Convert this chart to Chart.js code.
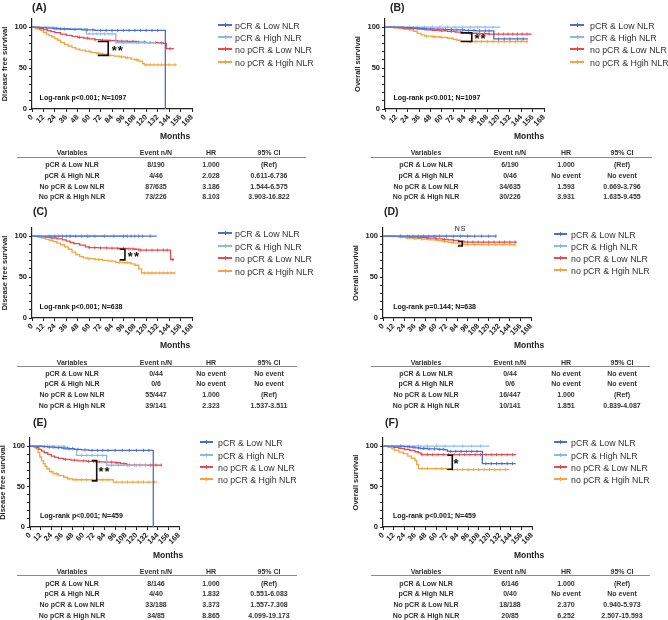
<!DOCTYPE html>
<html lang="en">
<head>
<meta charset="UTF-8">
<title>Survival by pCR and NLR</title>
<script src="https://cdn.jsdelivr.net/npm/chart.js@4.4.1/dist/chart.umd.min.js"></script>
<style>
  body { margin: 0; background: #fff; font-family: "Liberation Sans", Arial, sans-serif; color: #222; }
  #page { position: relative; width: 668px; height: 620px; overflow: hidden; }
  #page canvas { position: absolute; }
  .t { position: absolute; white-space: nowrap; line-height: 1; }
  .lbl { font-weight: bold; font-size: 10.5px; transform: translateY(-50%); }
  .months { font-weight: bold; font-size: 8.5px; transform: translate(-50%, -50%); }
  .cell { font-weight: bold; font-size: 7px; color: #333; transform: translate(-50%, -50%); }
  .rule { position: absolute; height: 1px; background: #8a8a8a; }
  .leg { font-size: 8.8px; color: #333; transform: translateY(-50%); }
  .legline { position: absolute; height: 1.4px; }
  .legtick { position: absolute; width: 1px; height: 4px; }
</style>
</head>
<body>
<div id="page"></div>
<script>
// ---- data ----
const legendLabels = ['pCR & Low NLR', 'pCR & High NLR', 'no pCR & Low NLR', 'no pCR & Hgih NLR'];
const tableGroups = ['pCR & Low NLR', 'pCR & High NLR', 'No pCR & Low NLR', 'No pCR & High NLR'];
const tableHeader = ['Variables', 'Event  n/N', 'HR', '95% CI'];
const colors = ['#4b6cd2', '#8db8ea', '#e8484f', '#f6a43c'];

// (A) disease free survival, all patients  [month, survival %]
const A_pcrLow = [[0,100],[8,99.5],[15,98.9],[22,98.4],[30,97.8],[40,97.3],[52,96.7],[66,96.1],[140,0]];
const A_pcrHigh = [[0,100],[24,97.8],[57,91.8],[88,81],[130,81]];
const A_npLow = [[0,100],[4,99.4],[8,98.3],[12,97],[16,95.8],[20,94.5],[24,93.3],[30,91.5],[36,90],[42,88.8],[48,87.6],[54,86.6],[60,85.6],[66,84.8],[72,84.1],[80,83.6],[90,82.9],[100,82.5],[110,81.8],[120,81.2],[132,80.7],[138,80.2],[141,73.7],[149,73.7]];
const A_npHigh = [[0,100],[3,99],[6,97.5],[9,96],[12,93.5],[15,91.5],[18,89.8],[21,88],[24,86],[27,84],[30,81.5],[34,79],[38,77],[42,75],[46,73.2],[50,72],[56,70.5],[62,69],[68,68],[74,67],[80,65.6],[86,64.6],[92,63.8],[98,62.6],[104,61],[108,60.2],[112,58.5],[116,55.5],[118,54],[152,54]];
const A_cens = [
  [26,34,45,58,64,72,78,84,90,96,102,108,114,120,126,132],
  [30,60,64,68,72,76,80,84,96,110],
  [50,58,66,74,82,88,94,100,106,112,118,124,130,136,145],
  [60,70,82,94,100,110,120,124,128,132,136,140,144,150]
];
// (B) overall survival, all patients
const B_pcrLow = [[0,100],[20,99.5],[28,99],[36,98.5],[44,98],[52,97.6],[62,97.1],[72,96.6],[84,96.1],[96,95.6],[115,85.6],[151,85.6]];
const B_pcrHigh = [[0,100],[122,100]];
const B_npLow = [[0,100],[10,99.6],[18,99],[26,98.3],[34,97.6],[42,96.8],[50,96.2],[58,95.6],[66,94.8],[74,94],[82,93.3],[90,92.6],[98,92],[110,91.6],[155,91.6]];
const B_npHigh = [[0,100],[8,99.4],[14,98.5],[20,97.5],[26,96.3],[30,95],[34,92.5],[38,90.5],[42,89],[50,88.3],[58,87.6],[66,86.5],[72,85.2],[76,84],[80,83],[86,82.5],[151,82.5]];
const B_cens = [
  [24,30,40,48,56,64,70,76,82,88,94,100,106,110,120,126,132,140,146],
  [10,18,26,34,42,50,58,66,74,82,90,98,106,114],
  [60,70,80,90,100,105,110,115,120,125,130,135,140,145,150],
  [44,52,60,90,96,102,108,114,120,126,132,138,144,150]
];
// (C) disease free survival, subgroup 1
const C_pcrLow = [[0,100],[131,100]];
const C_pcrHigh = [[0,100],[100,100]];
const C_npLow = [[0,100],[8,99.5],[14,98.8],[20,97.8],[26,96.8],[32,95.6],[36,94],[40,92.3],[44,90.8],[50,89],[56,87],[60,86],[70,85.6],[80,85.3],[90,85],[100,84.5],[108,84],[112,83],[145.5,71.5],[149,71.5]];
const C_npHigh = [[0,100],[6,99],[10,97.8],[14,96.5],[18,95],[22,93.3],[26,91.5],[30,89.5],[34,87],[38,84],[42,80.5],[46,77.5],[50,75],[54,73.5],[58,72.5],[66,71.5],[74,70.5],[80,69.5],[88,68],[96,67.5],[104,66.2],[108,64.5],[112,60],[115,55],[150,55]];
const C_cens = [
  [18,24,28,32,36,40,46,52,58,66,76,86,96,100,104,108,112,116,124],
  [20,40,60],
  [60,66,72,78,84,90,96,102,106,114,120,126,132,138,142,148],
  [60,70,84,92,100,118,122,126,130,134,138,142,146,150]
];
// (D) overall survival, subgroup 1
const D_pcrLow = [[0,100],[129,100]];
const D_pcrHigh = [[0,100],[100,100]];
const D_npLow = [[0,100],[14,99.8],[22,99.4],[30,99],[40,98.4],[50,97.6],[60,96.8],[68,96.2],[74,95.6],[80,94.8],[86,94],[92,92.8],[152,92.8]];
const D_npHigh = [[0,100],[10,99.5],[18,98.7],[26,97.8],[34,97],[44,96.3],[54,95.5],[62,94.6],[68,93.5],[74,92.4],[80,91.4],[86,90.4],[92,89.6],[150,89.6]];
const D_cens = [
  [20,28,34,40,46,52,58,64,72,80,88,96,104,112,120,128],
  [30,60],
  [20,30,40,50,60,70,80,96,102,108,114,120,126,132,138,144,150],
  [20,28,36,44,52,60,70,78,96,104,112,120,128,136,144,150]
];
// (E) disease free survival, subgroup 2
const E_pcrLow = [[0,100],[8,99.8],[14,99.4],[20,98.8],[28,98.2],[36,97.6],[44,96.8],[50,96],[58,95.3],[66,94.7],[139,0]];
const E_pcrHigh = [[0,100],[39.5,96],[52.6,88.6],[86.5,76.3],[132,76.3]];
const E_npLow = [[0,100],[4,99.3],[7,98],[10,96],[13,93.8],[16,91.8],[20,89.8],[24,87.6],[28,86],[32,84.8],[38,83.6],[46,82.6],[54,81.8],[64,81.2],[74,80.6],[84,80.1],[96,79.4],[102,78.3],[109,76.5],[148.5,76.5]];
const E_npHigh = [[0,100],[5,98],[7,96.5],[9,92],[11,86.5],[13,82],[15,78.3],[17,75],[19,72],[22,68.5],[26,65.8],[32,63.5],[38,61.5],[42,59.5],[48,58.4],[94,55.5],[143,55.5]];
const E_cens = [
  [16,22,26,32,38,42,48,54,62,70,76,82,88,96,104,112,120,128,134],
  [20,44,58,64,70,76,82,92,100,110,120],
  [40,50,60,66,72,78,86,92,98,106,112,118,124,130,136,142,148],
  [24,30,44,52,58,64,70,76,82,88,98,104,110,116,122,128,134,140]
];
// (F) overall survival, subgroup 2
const F_pcrLow = [[0,100],[24,99.3],[30,98.6],[36,97.8],[42,97],[50,96.5],[62,96],[70,95.2],[72.7,93.5],[112,78.3],[149.6,78.3]];
const F_pcrHigh = [[0,100],[120,100]];
const F_npLow = [[0,100],[6,99.4],[12,98.3],[18,97.2],[24,95.8],[30,94.7],[36,93],[40,91.5],[43,89.4],[150,89.4]];
const F_npHigh = [[0,100],[6,98.8],[10,96.5],[13,94.7],[18,92.5],[23,90.6],[28,87.5],[32,85],[36,82.4],[38,77],[40,72.2],[72,71],[142,71]];
const F_cens = [
  [20,28,34,40,46,52,58,64,68,76,82,88,94,100,106,116,122,128,134,140,146],
  [10,20,30,40,50,60,70,80,90,100,110],
  [44,50,56,62,68,74,80,86,92,98,104,110,116,122,128,134,140,146],
  [44,50,60,66,78,84,90,96,102,108,114,120,126,132,138]
];

// tables: event n/N, HR, 95% CI
const A_event = ['8/190', '4/46', '87/635', '73/226'];
const A_hr = ['1.000', '2.028', '3.186', '8.103'];
const A_ci = ['(Ref)', '0.611-6.736', '1.544-6.575', '3.903-16.822'];
const B_event = ['6/190', '0/46', '34/635', '30/226'];
const B_hr = ['1.000', 'No event', '1.593', '3.931'];
const B_ci = ['(Ref)', 'No event', '0.669-3.796', '1.635-9.455'];
const C_event = ['0/44', '0/6', '55/447', '39/141'];
const C_hr = ['No event', 'No event', '1.000', '2.323'];
const C_ci = ['No event', 'No event', '(Ref)', '1.537-3.511'];
const D_event = ['0/44', '0/6', '16/447', '10/141'];
const D_hr = ['No event', 'No event', '1.000', '1.851'];
const D_ci = ['No event', 'No event', '(Ref)', '0.839-4.087'];
const E_event = ['8/146', '4/40', '33/188', '34/85'];
const E_hr = ['1.000', '1.832', '3.373', '8.865'];
const E_ci = ['(Ref)', '0.551-6.083', '1.557-7.308', '4.099-19.173'];
const F_event = ['6/146', '0/40', '18/188', '20/85'];
const F_hr = ['1.000', 'No event', '2.370', '6.252'];
const F_ci = ['(Ref)', 'No event', '0.940-5.973', '2.507-15.593'];

// ---- layout ----
const page = document.getElementById('page');
const FONT = '"Liberation Sans", Arial, sans-serif';

function addText(cls, txt, x, y) {
  const d = document.createElement('div');
  d.className = 't ' + cls;
  d.textContent = txt;
  d.style.left = x + 'px';
  d.style.top = y + 'px';
  page.appendChild(d);
  return d;
}

function addBox(cls, x, y, w, color) {
  const d = document.createElement('div');
  d.className = cls;
  d.style.left = x + 'px';
  d.style.top = y + 'px';
  if (w) d.style.width = w + 'px';
  if (color) d.style.background = color;
  page.appendChild(d);
}

function stepAt(curve, t) {
  let v = curve[0][1];
  for (const [x, y] of curve) { if (x <= t) v = y; }
  return v;
}

const annot = {
  id: 'annot',
  afterDatasetsDraw(chart, args, o) {
    const { ctx, scales: { x, y } } = chart;
    const b = o.bracket;
    ctx.save();
    ctx.strokeStyle = '#111';
    ctx.lineWidth = 1.6;
    ctx.beginPath();
    ctx.moveTo(x.getPixelForValue(b[0]), y.getPixelForValue(b[2]));
    ctx.lineTo(x.getPixelForValue(b[1]), y.getPixelForValue(b[2]));
    ctx.lineTo(x.getPixelForValue(b[1]), y.getPixelForValue(b[3]));
    ctx.lineTo(x.getPixelForValue(b[0]), y.getPixelForValue(b[3]));
    ctx.stroke();
    ctx.fillStyle = '#111';
    ctx.textAlign = 'center';
    ctx.textBaseline = 'middle';
    ctx.font = o.markFont + ' ' + FONT;
    ctx.letterSpacing = '1px';
    ctx.fillText(o.mark, x.getPixelForValue(o.markAt[0]), y.getPixelForValue(o.markAt[1]));
    ctx.letterSpacing = '0px';
    ctx.textAlign = 'left';
    ctx.font = 'bold 7px ' + FONT;
    ctx.fillText(o.logrank, x.getPixelForValue(o.logAt[0]), y.getPixelForValue(o.logAt[1]));
    ctx.restore();
  }
};

function makePanel(p) {
  const padTop = 10, padRight = 8, yW = 32, xH = 26;
  const left = p.area.l - yW, top = p.area.t - padTop;
  const w = p.area.r + padRight - left, h = p.area.b + xH - top;
  const cv = document.createElement('canvas');
  cv.width = w; cv.height = h;
  cv.style.left = left + 'px'; cv.style.top = top + 'px';
  cv.style.width = w + 'px'; cv.style.height = h + 'px';
  page.appendChild(cv);

  const datasets = [];
  p.curves.forEach((c, i) => {
    datasets.push({
      type: 'line', data: c.map(([x, y]) => ({ x, y })), stepped: 'before',
      borderColor: colors[i], borderWidth: 1.3, pointRadius: 0, fill: false
    });
  });
  p.curves.forEach((c, i) => {
    datasets.push({
      type: 'scatter', data: p.cens[i].map(t => ({ x: t, y: stepAt(c, t) })),
      pointStyle: 'line', rotation: 90, radius: 1.6, borderColor: colors[i], borderWidth: 0.9
    });
  });
  // first group drawn on top
  datasets.forEach((d, i) => { d.order = i; });

  new Chart(cv, {
    type: 'line',
    data: { datasets },
    options: {
      responsive: false, animation: false, devicePixelRatio: 1,
      layout: { padding: { top: padTop, right: padRight, left: 0, bottom: 0 } },
      plugins: {
        legend: { display: false }, tooltip: { enabled: false },
        annot: p.annot
      },
      scales: {
        x: {
          type: 'linear', min: 0, max: 168,
          afterFit: s => { s.height = xH; },
          ticks: { stepSize: 12, autoSkip: false, minRotation: 45, maxRotation: 45, padding: 1,
                   color: '#222', font: { family: FONT, size: 7.5, weight: 'bold' } },
          grid: { drawOnChartArea: false, tickLength: 3, color: '#222' },
          border: { color: '#222', width: 1.2 }
        },
        y: {
          min: 0, max: 110,
          afterFit: s => { s.width = yW; },
          ticks: { stepSize: 10, autoSkip: false, padding: 2, color: '#222',
                   font: { family: FONT, size: 7.5, weight: 'bold' },
                   callback: v => (v % 50 === 0 && v <= 100 ? v : '') },
          grid: { drawOnChartArea: false, tickLength: 3,
                  color: c => (c.tick && c.tick.value > 100 ? 'rgba(0,0,0,0)' : '#222') },
          border: { color: '#222', width: 1.2 },
          title: { display: true, text: p.ytitle, padding: 0, color: '#222',
                   font: { family: FONT, size: 7.5, weight: 'bold' } }
        }
      }
    },
    plugins: [annot]
  });

  // panel letter
  addText('lbl', p.letter, p.letterAt[0], p.letterAt[1]);

  // legend
  const lg = p.legend;
  legendLabels.forEach((name, i) => {
    const y = lg.y[i];
    addBox('legline', lg.x0, y - 0.7, lg.x1 - lg.x0, colors[i]);
    addBox('legtick', (lg.x0 + lg.x1) / 2 - 0.5, y - 2, 0, colors[i]);
    addText('leg', name, lg.tx, y + 0.5);
  });

  // months label and table
  const tb = p.table;
  addText('months', 'Months', tb.monthsAt[0], tb.monthsAt[1]);
  tableHeader.forEach((h, j) => addText('cell', h, tb.cols[j], tb.head));
  addBox('rule', tb.rule[0], tb.ruleY, tb.rule[1] - tb.rule[0]);
  tableGroups.forEach((g, i) => {
    const row = [g, tb.event[i], tb.hr[i], tb.ci[i]];
    row.forEach((v, j) => addText('cell', v, tb.cols[j], tb.rows[i]));
  });
}

const colsL = [72, 156, 211, 269];
const colsR = [426, 510, 566, 622];

const panels = [
  { letter: '(A)', letterAt: [32, 7], ytitle: 'Disease free survival',
    area: { l: 32, r: 192, t: 19, b: 109 },
    curves: [A_pcrLow, A_pcrHigh, A_npLow, A_npHigh], cens: A_cens,
    annot: { bracket: [69, 80, 82.5, 65.5], mark: '**', markFont: 'bold 13px', markAt: [90, 70.5],
             logrank: 'Log-rank p<0.001; N=1097', logAt: [8, 13] },
    legend: { x0: 218, x1: 232, tx: 235, y: [25, 37, 49, 62] },
    table: { monthsAt: [175, 136], cols: colsL, head: 151.7, rule: [17, 306], ruleY: 157,
             rows: [164, 175, 185.7, 196.3], event: A_event, hr: A_hr, ci: A_ci } },
  { letter: '(B)', letterAt: [390, 7], ytitle: 'Overall survival',
    area: { l: 385, r: 544, t: 19, b: 109 },
    curves: [B_pcrLow, B_pcrHigh, B_npLow, B_npHigh], cens: B_cens,
    annot: { bracket: [80, 91.7, 93, 82.5], mark: '**', markFont: 'bold 13px', markAt: [101, 85],
             logrank: 'Log-rank p<0.001; N=1097', logAt: [9, 13] },
    legend: { x0: 570, x1: 584, tx: 590, y: [25, 37, 49, 62] },
    table: { monthsAt: [529, 136], cols: colsR, head: 151.7, rule: [371, 652], ruleY: 157,
             rows: [164, 175, 185.7, 196.3], event: B_event, hr: B_hr, ci: B_ci } },
  { letter: '(C)', letterAt: [33, 211], ytitle: 'Disease free survival',
    area: { l: 32, r: 192, t: 228, b: 318 },
    curves: [C_pcrLow, C_pcrHigh, C_npLow, C_npHigh], cens: C_cens,
    annot: { bracket: [92, 97.6, 84, 71], mark: '**', markFont: 'bold 13px', markAt: [107, 74.5],
             logrank: 'Log-rank p<0.001; N=638', logAt: [8, 13] },
    legend: { x0: 218, x1: 232, tx: 235, y: [233, 246, 258, 271] },
    table: { monthsAt: [175, 345], cols: colsL, head: 361.7, rule: [17, 297], ruleY: 366,
             rows: [372.7, 383.3, 394, 405], event: C_event, hr: C_hr, ci: C_ci } },
  { letter: '(D)', letterAt: [384, 211], ytitle: 'Overall survival',
    area: { l: 383, r: 531, t: 228, b: 318 },
    curves: [D_pcrLow, D_pcrHigh, D_npLow, D_npHigh], cens: D_cens,
    annot: { bracket: [85, 90, 93.5, 88], mark: 'NS', markFont: '7px', markAt: [88, 109],
             logrank: 'Log-rank p=0.144; N=638', logAt: [11.5, 13] },
    legend: { x0: 554, x1: 567, tx: 571, y: [234, 246, 258, 270] },
    table: { monthsAt: [529, 345], cols: colsR, head: 361.7, rule: [371, 650], ruleY: 366,
             rows: [372.7, 383.3, 394, 405], event: D_event, hr: D_hr, ci: D_ci } },
  { letter: '(E)', letterAt: [33, 421.5], ytitle: 'Disease free survival',
    area: { l: 30, r: 179, t: 438, b: 527 },
    curves: [E_pcrLow, E_pcrHigh, E_npLow, E_npHigh], cens: E_cens,
    annot: { bracket: [69.6, 75.2, 82, 57], mark: '**', markFont: 'bold 13px', markAt: [84, 67],
             logrank: 'Log-rank p<0.001; N=459', logAt: [11.3, 13] },
    legend: { x0: 200, x1: 213, tx: 218, y: [442, 455, 467, 479] },
    table: { monthsAt: [168, 555], cols: colsL, head: 570.7, rule: [17, 297], ruleY: 575,
             rows: [582.7, 593.3, 604, 615], event: E_event, hr: E_hr, ci: E_ci } },
  { letter: '(F)', letterAt: [385, 421.5], ytitle: 'Overall survival',
    area: { l: 383, r: 532, t: 438, b: 527 },
    curves: [F_pcrLow, F_pcrHigh, F_npLow, F_npHigh], cens: F_cens,
    annot: { bracket: [72.5, 78.1, 88.6, 71.4], mark: '*', markFont: 'bold 13px', markAt: [83, 77.5],
             logrank: 'Log-rank p<0.001; N=459', logAt: [11.3, 13] },
    legend: { x0: 554, x1: 567, tx: 571, y: [442, 455, 467, 479] },
    table: { monthsAt: [529, 555], cols: colsR, head: 570.7, rule: [371, 650], ruleY: 575,
             rows: [582.7, 593.3, 604, 615], event: F_event, hr: F_hr, ci: F_ci } }
];

panels.forEach(makePanel);
</script>
</body>
</html>
